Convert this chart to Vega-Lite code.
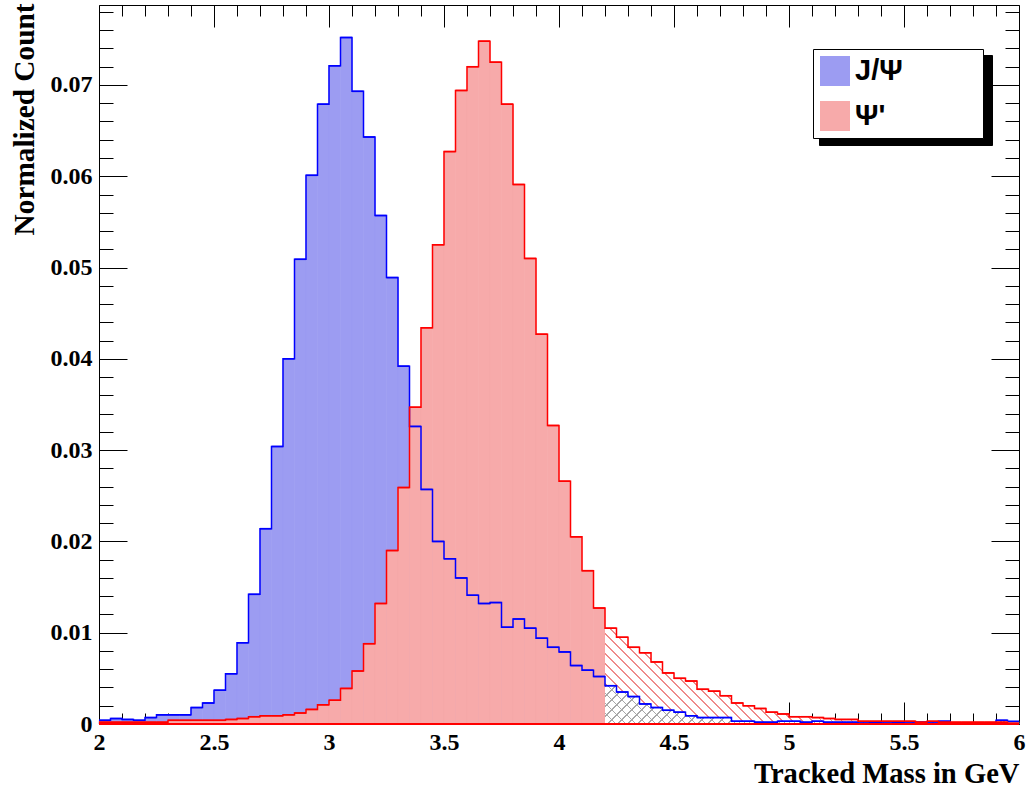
{
  "$schema": "https://vega.github.io/schema/vega-lite/v6.json",
  "width": 920,
  "height": 719,
  "autosize": {"type": "none"},
  "padding": {"left": 99, "top": 5, "right": 10, "bottom": 69},
  "background": "white",
  "data": {"values": [
    {"lo": 2.00, "hi": 2.05, "jpsi": 0.0004, "psi2": 0.0002},
    {"lo": 2.05, "hi": 2.10, "jpsi": 0.0006, "psi2": 0.0002},
    {"lo": 2.10, "hi": 2.15, "jpsi": 0.0005, "psi2": 0.0002},
    {"lo": 2.15, "hi": 2.20, "jpsi": 0.0004, "psi2": 0.0002},
    {"lo": 2.20, "hi": 2.25, "jpsi": 0.0007, "psi2": 0.0002},
    {"lo": 2.25, "hi": 2.30, "jpsi": 0.0010, "psi2": 0.0002},
    {"lo": 2.30, "hi": 2.35, "jpsi": 0.0010, "psi2": 0.0004},
    {"lo": 2.35, "hi": 2.40, "jpsi": 0.0010, "psi2": 0.0004},
    {"lo": 2.40, "hi": 2.45, "jpsi": 0.0018, "psi2": 0.0004},
    {"lo": 2.45, "hi": 2.50, "jpsi": 0.0023, "psi2": 0.0004},
    {"lo": 2.50, "hi": 2.55, "jpsi": 0.0037, "psi2": 0.0004},
    {"lo": 2.55, "hi": 2.60, "jpsi": 0.0055, "psi2": 0.0005},
    {"lo": 2.60, "hi": 2.65, "jpsi": 0.0089, "psi2": 0.0006},
    {"lo": 2.65, "hi": 2.70, "jpsi": 0.0142, "psi2": 0.0008},
    {"lo": 2.70, "hi": 2.75, "jpsi": 0.0214, "psi2": 0.0009},
    {"lo": 2.75, "hi": 2.80, "jpsi": 0.0304, "psi2": 0.0009},
    {"lo": 2.80, "hi": 2.85, "jpsi": 0.0400, "psi2": 0.0010},
    {"lo": 2.85, "hi": 2.90, "jpsi": 0.0509, "psi2": 0.0012},
    {"lo": 2.90, "hi": 2.95, "jpsi": 0.0601, "psi2": 0.0016},
    {"lo": 2.95, "hi": 3.00, "jpsi": 0.0679, "psi2": 0.0021},
    {"lo": 3.00, "hi": 3.05, "jpsi": 0.0721, "psi2": 0.0026},
    {"lo": 3.05, "hi": 3.10, "jpsi": 0.0752, "psi2": 0.0039},
    {"lo": 3.10, "hi": 3.15, "jpsi": 0.0693, "psi2": 0.0058},
    {"lo": 3.15, "hi": 3.20, "jpsi": 0.0643, "psi2": 0.0088},
    {"lo": 3.20, "hi": 3.25, "jpsi": 0.0557, "psi2": 0.0132},
    {"lo": 3.25, "hi": 3.30, "jpsi": 0.0489, "psi2": 0.0190},
    {"lo": 3.30, "hi": 3.35, "jpsi": 0.0392, "psi2": 0.0259},
    {"lo": 3.35, "hi": 3.40, "jpsi": 0.0326, "psi2": 0.0347},
    {"lo": 3.40, "hi": 3.45, "jpsi": 0.0257, "psi2": 0.0434},
    {"lo": 3.45, "hi": 3.50, "jpsi": 0.0200, "psi2": 0.0525},
    {"lo": 3.50, "hi": 3.55, "jpsi": 0.0181, "psi2": 0.0627},
    {"lo": 3.55, "hi": 3.60, "jpsi": 0.0160, "psi2": 0.0694},
    {"lo": 3.60, "hi": 3.65, "jpsi": 0.0141, "psi2": 0.0720},
    {"lo": 3.65, "hi": 3.70, "jpsi": 0.0132, "psi2": 0.0748},
    {"lo": 3.70, "hi": 3.75, "jpsi": 0.0133, "psi2": 0.0725},
    {"lo": 3.75, "hi": 3.80, "jpsi": 0.0106, "psi2": 0.0679},
    {"lo": 3.80, "hi": 3.85, "jpsi": 0.0115, "psi2": 0.0591},
    {"lo": 3.85, "hi": 3.90, "jpsi": 0.0105, "psi2": 0.0510},
    {"lo": 3.90, "hi": 3.95, "jpsi": 0.0094, "psi2": 0.0427},
    {"lo": 3.95, "hi": 4.00, "jpsi": 0.0084, "psi2": 0.0327},
    {"lo": 4.00, "hi": 4.05, "jpsi": 0.0079, "psi2": 0.0266},
    {"lo": 4.05, "hi": 4.10, "jpsi": 0.0064, "psi2": 0.0205},
    {"lo": 4.10, "hi": 4.15, "jpsi": 0.0059, "psi2": 0.0168},
    {"lo": 4.15, "hi": 4.20, "jpsi": 0.0052, "psi2": 0.0127},
    {"lo": 4.20, "hi": 4.25, "jpsi": 0.0042, "psi2": 0.0105},
    {"lo": 4.25, "hi": 4.30, "jpsi": 0.0035, "psi2": 0.0095},
    {"lo": 4.30, "hi": 4.35, "jpsi": 0.0030, "psi2": 0.0084},
    {"lo": 4.35, "hi": 4.40, "jpsi": 0.0022, "psi2": 0.0078},
    {"lo": 4.40, "hi": 4.45, "jpsi": 0.0018, "psi2": 0.0068},
    {"lo": 4.45, "hi": 4.50, "jpsi": 0.0015, "psi2": 0.0056},
    {"lo": 4.50, "hi": 4.55, "jpsi": 0.0013, "psi2": 0.0050},
    {"lo": 4.55, "hi": 4.60, "jpsi": 0.0009, "psi2": 0.0047},
    {"lo": 4.60, "hi": 4.65, "jpsi": 0.0007, "psi2": 0.0038},
    {"lo": 4.65, "hi": 4.70, "jpsi": 0.0007, "psi2": 0.0036},
    {"lo": 4.70, "hi": 4.75, "jpsi": 0.0007, "psi2": 0.0031},
    {"lo": 4.75, "hi": 4.80, "jpsi": 0.0003, "psi2": 0.0023},
    {"lo": 4.80, "hi": 4.85, "jpsi": 0.0003, "psi2": 0.0020},
    {"lo": 4.85, "hi": 4.90, "jpsi": 0.0002, "psi2": 0.0017},
    {"lo": 4.90, "hi": 4.95, "jpsi": 0.0002, "psi2": 0.0013},
    {"lo": 4.95, "hi": 5.00, "jpsi": 0.0003, "psi2": 0.0011},
    {"lo": 5.00, "hi": 5.05, "jpsi": 0.0003, "psi2": 0.0008},
    {"lo": 5.05, "hi": 5.10, "jpsi": 0.0002, "psi2": 0.0008},
    {"lo": 5.10, "hi": 5.15, "jpsi": 0.0003, "psi2": 0.0007},
    {"lo": 5.15, "hi": 5.20, "jpsi": 0.0002, "psi2": 0.0006},
    {"lo": 5.20, "hi": 5.25, "jpsi": 0.0002, "psi2": 0.0005},
    {"lo": 5.25, "hi": 5.30, "jpsi": 0.0002, "psi2": 0.0005},
    {"lo": 5.30, "hi": 5.35, "jpsi": 0.0001, "psi2": 0.0003},
    {"lo": 5.35, "hi": 5.40, "jpsi": 0.0002, "psi2": 0.0003},
    {"lo": 5.40, "hi": 5.45, "jpsi": 0.0001, "psi2": 0.0003},
    {"lo": 5.45, "hi": 5.50, "jpsi": 0.0002, "psi2": 0.0003},
    {"lo": 5.50, "hi": 5.55, "jpsi": 0.0001, "psi2": 0.0003},
    {"lo": 5.55, "hi": 5.60, "jpsi": 0.0002, "psi2": 0.0002},
    {"lo": 5.60, "hi": 5.65, "jpsi": 0.0001, "psi2": 0.0003},
    {"lo": 5.65, "hi": 5.70, "jpsi": 0.0003, "psi2": 0.0002},
    {"lo": 5.70, "hi": 5.75, "jpsi": 0.0001, "psi2": 0.0002},
    {"lo": 5.75, "hi": 5.80, "jpsi": 0.0001, "psi2": 0.0002},
    {"lo": 5.80, "hi": 5.85, "jpsi": 0.0001, "psi2": 0.0002},
    {"lo": 5.85, "hi": 5.90, "jpsi": 0.0001, "psi2": 0.0002},
    {"lo": 5.90, "hi": 5.95, "jpsi": 0.0004, "psi2": 0.0002},
    {"lo": 5.95, "hi": 6.00, "jpsi": 0.0003, "psi2": 0.0001}
  ]},
  "config": {
    "view": {"stroke": "black", "strokeWidth": 1},
    "axis": {
      "grid": false, "zindex": 1, "domain": false,
      "tickColor": "black", "tickWidth": 1,
      "labelFont": "Liberation Serif", "labelFontWeight": "bold", "labelFontSize": 24, "labelColor": "black",
      "titleFont": "Liberation Serif", "titleFontWeight": "bold", "titleFontSize": 28, "titleColor": "black"
    }
  },
  "resolve": {"axis": {"x": "independent", "y": "independent"}},
  "layer": [
    {
      "transform": [{"fold": ["jpsi", "psi2"], "as": ["series", "value"]}],
      "mark": {"type": "bar", "strokeWidth": 0.6},
      "encoding": {
        "x": {"field": "lo", "type": "quantitative", "scale": {"domain": [2, 6], "nice": false, "zero": false},
          "axis": {"orient": "bottom", "values": [2, 2.5, 3, 3.5, 4, 4.5, 5, 5.5, 6], "format": "~g", "tickSize": -22, "labelPadding": 28, "labelFlush": false, "labelOverlap": false,
            "title": "Tracked Mass in GeV", "titleFontSize": 28.6, "titleX": 920, "titleY": 58, "titleAlign": "right", "titleBaseline": "alphabetic", "titleAnchor": "end"}},
        "x2": {"field": "hi"},
        "y": {"field": "value", "type": "quantitative", "scale": {"domain": [0, 0.07876], "nice": false},
          "axis": {"orient": "left", "values": [0, 0.01, 0.02, 0.03, 0.04, 0.05, 0.06, 0.07], "format": "~g", "tickSize": -28, "labelPadding": 35, "labelFlush": false, "labelOverlap": false,
            "title": "Normalized Count", "titleFontSize": 29.3, "titleX": -66, "titleY": -2, "titleAngle": -90, "titleAlign": "right", "titleBaseline": "alphabetic", "titleAnchor": "end"}},
        "y2": {"datum": 0},
        "order": {"field": "series"},
        "color": {"field": "series", "type": "nominal",
          "scale": {"domain": ["jpsi", "psi2"], "range": ["#9c9cf2", "#f7aaaa"]},
          "legend": {"orient": "none", "legendX": 714, "legendY": 44, "title": null, "zindex": 2,
            "symbolType": "square", "symbolSize": 900, "symbolStrokeWidth": 0, "symbolOpacity": 1,
            "labelFont": "Liberation Sans", "labelFontWeight": "bold", "labelFontSize": 29, "labelColor": "black",
            "labelOffset": 5, "rowPadding": 15, "padding": 7, "fillColor": "white", "strokeColor": "black",
            "labelExpr": "datum.label == 'jpsi' ? 'J/Ψ\u00a0\u00a0\u00a0\u00a0\u00a0\u00a0\u00a0\u00a0\u00a0\u200b' : \"Ψ'\""}},
        "stroke": {"field": "series", "type": "nominal", "scale": {"domain": ["jpsi", "psi2"], "range": ["#9c9cf2", "#f7aaaa"]}, "legend": null}
      }
    },
    {
      "transform": [{"filter": {"field": "lo", "gte": 4.2}}],
      "mark": {"type": "area", "interpolate": "step-after",
        "fill": {"gradient": "linear", "x1": 0, "y1": 1, "x2": 1.1717, "y2": 0.7208, "stops": [
          {"offset": 0, "color": "#ef8a8a"}, {"offset": 0.0034, "color": "#ef8a8a"}, {"offset": 0.0034, "color": "#ffffff"}, {"offset": 0.02, "color": "#ffffff"},
          {"offset": 0.02, "color": "#ef8a8a"}, {"offset": 0.0234, "color": "#ef8a8a"}, {"offset": 0.0234, "color": "#ffffff"}, {"offset": 0.04, "color": "#ffffff"},
          {"offset": 0.04, "color": "#ef8a8a"}, {"offset": 0.0434, "color": "#ef8a8a"}, {"offset": 0.0434, "color": "#ffffff"}, {"offset": 0.06, "color": "#ffffff"},
          {"offset": 0.06, "color": "#ef8a8a"}, {"offset": 0.0634, "color": "#ef8a8a"}, {"offset": 0.0634, "color": "#ffffff"}, {"offset": 0.08, "color": "#ffffff"},
          {"offset": 0.08, "color": "#ef8a8a"}, {"offset": 0.0834, "color": "#ef8a8a"}, {"offset": 0.0834, "color": "#ffffff"}, {"offset": 0.10, "color": "#ffffff"},
          {"offset": 0.10, "color": "#ef8a8a"}, {"offset": 0.1034, "color": "#ef8a8a"}, {"offset": 0.1034, "color": "#ffffff"}, {"offset": 0.12, "color": "#ffffff"},
          {"offset": 0.12, "color": "#ef8a8a"}, {"offset": 0.1234, "color": "#ef8a8a"}, {"offset": 0.1234, "color": "#ffffff"}, {"offset": 0.14, "color": "#ffffff"},
          {"offset": 0.14, "color": "#ef8a8a"}, {"offset": 0.1434, "color": "#ef8a8a"}, {"offset": 0.1434, "color": "#ffffff"}, {"offset": 0.16, "color": "#ffffff"},
          {"offset": 0.16, "color": "#ef8a8a"}, {"offset": 0.1634, "color": "#ef8a8a"}, {"offset": 0.1634, "color": "#ffffff"}, {"offset": 0.18, "color": "#ffffff"},
          {"offset": 0.18, "color": "#ef8a8a"}, {"offset": 0.1834, "color": "#ef8a8a"}, {"offset": 0.1834, "color": "#ffffff"}, {"offset": 0.20, "color": "#ffffff"},
          {"offset": 0.20, "color": "#ef8a8a"}, {"offset": 0.2034, "color": "#ef8a8a"}, {"offset": 0.2034, "color": "#ffffff"}, {"offset": 0.22, "color": "#ffffff"},
          {"offset": 0.22, "color": "#ef8a8a"}, {"offset": 0.2234, "color": "#ef8a8a"}, {"offset": 0.2234, "color": "#ffffff"}, {"offset": 0.24, "color": "#ffffff"},
          {"offset": 0.24, "color": "#ef8a8a"}, {"offset": 0.2434, "color": "#ef8a8a"}, {"offset": 0.2434, "color": "#ffffff"}, {"offset": 0.26, "color": "#ffffff"},
          {"offset": 0.26, "color": "#ef8a8a"}, {"offset": 0.2634, "color": "#ef8a8a"}, {"offset": 0.2634, "color": "#ffffff"}, {"offset": 0.28, "color": "#ffffff"},
          {"offset": 0.28, "color": "#ef8a8a"}, {"offset": 0.2834, "color": "#ef8a8a"}, {"offset": 0.2834, "color": "#ffffff"}, {"offset": 0.30, "color": "#ffffff"},
          {"offset": 0.30, "color": "#ef8a8a"}, {"offset": 0.3034, "color": "#ef8a8a"}, {"offset": 0.3034, "color": "#ffffff"}, {"offset": 0.32, "color": "#ffffff"},
          {"offset": 0.32, "color": "#ef8a8a"}, {"offset": 0.3234, "color": "#ef8a8a"}, {"offset": 0.3234, "color": "#ffffff"}, {"offset": 0.34, "color": "#ffffff"},
          {"offset": 0.34, "color": "#ef8a8a"}, {"offset": 0.3434, "color": "#ef8a8a"}, {"offset": 0.3434, "color": "#ffffff"}, {"offset": 0.36, "color": "#ffffff"},
          {"offset": 0.36, "color": "#ef8a8a"}, {"offset": 0.3634, "color": "#ef8a8a"}, {"offset": 0.3634, "color": "#ffffff"}, {"offset": 0.38, "color": "#ffffff"},
          {"offset": 0.38, "color": "#ef8a8a"}, {"offset": 0.3834, "color": "#ef8a8a"}, {"offset": 0.3834, "color": "#ffffff"}, {"offset": 0.40, "color": "#ffffff"},
          {"offset": 0.40, "color": "#ef8a8a"}, {"offset": 0.4034, "color": "#ef8a8a"}, {"offset": 0.4034, "color": "#ffffff"}, {"offset": 0.42, "color": "#ffffff"},
          {"offset": 0.42, "color": "#ef8a8a"}, {"offset": 0.4234, "color": "#ef8a8a"}, {"offset": 0.4234, "color": "#ffffff"}, {"offset": 0.44, "color": "#ffffff"},
          {"offset": 0.44, "color": "#ef8a8a"}, {"offset": 0.4434, "color": "#ef8a8a"}, {"offset": 0.4434, "color": "#ffffff"}, {"offset": 0.46, "color": "#ffffff"},
          {"offset": 0.46, "color": "#ef8a8a"}, {"offset": 0.4634, "color": "#ef8a8a"}, {"offset": 0.4634, "color": "#ffffff"}, {"offset": 0.48, "color": "#ffffff"},
          {"offset": 0.48, "color": "#ef8a8a"}, {"offset": 0.4834, "color": "#ef8a8a"}, {"offset": 0.4834, "color": "#ffffff"}, {"offset": 0.50, "color": "#ffffff"},
          {"offset": 0.50, "color": "#ef8a8a"}, {"offset": 0.5034, "color": "#ef8a8a"}, {"offset": 0.5034, "color": "#ffffff"}, {"offset": 0.52, "color": "#ffffff"},
          {"offset": 0.52, "color": "#ef8a8a"}, {"offset": 0.5234, "color": "#ef8a8a"}, {"offset": 0.5234, "color": "#ffffff"}, {"offset": 0.54, "color": "#ffffff"},
          {"offset": 0.54, "color": "#ef8a8a"}, {"offset": 0.5434, "color": "#ef8a8a"}, {"offset": 0.5434, "color": "#ffffff"}, {"offset": 0.56, "color": "#ffffff"},
          {"offset": 0.56, "color": "#ef8a8a"}, {"offset": 0.5634, "color": "#ef8a8a"}, {"offset": 0.5634, "color": "#ffffff"}, {"offset": 0.58, "color": "#ffffff"},
          {"offset": 0.58, "color": "#ef8a8a"}, {"offset": 0.5834, "color": "#ef8a8a"}, {"offset": 0.5834, "color": "#ffffff"}, {"offset": 0.60, "color": "#ffffff"},
          {"offset": 0.60, "color": "#ef8a8a"}, {"offset": 0.6034, "color": "#ef8a8a"}, {"offset": 0.6034, "color": "#ffffff"}, {"offset": 0.62, "color": "#ffffff"},
          {"offset": 0.62, "color": "#ef8a8a"}, {"offset": 0.6234, "color": "#ef8a8a"}, {"offset": 0.6234, "color": "#ffffff"}, {"offset": 0.64, "color": "#ffffff"},
          {"offset": 0.64, "color": "#ef8a8a"}, {"offset": 0.6434, "color": "#ef8a8a"}, {"offset": 0.6434, "color": "#ffffff"}, {"offset": 0.66, "color": "#ffffff"},
          {"offset": 0.66, "color": "#ef8a8a"}, {"offset": 0.6634, "color": "#ef8a8a"}, {"offset": 0.6634, "color": "#ffffff"}, {"offset": 0.68, "color": "#ffffff"},
          {"offset": 0.68, "color": "#ef8a8a"}, {"offset": 0.6834, "color": "#ef8a8a"}, {"offset": 0.6834, "color": "#ffffff"}, {"offset": 0.70, "color": "#ffffff"},
          {"offset": 0.70, "color": "#ef8a8a"}, {"offset": 0.7034, "color": "#ef8a8a"}, {"offset": 0.7034, "color": "#ffffff"}, {"offset": 0.72, "color": "#ffffff"},
          {"offset": 0.72, "color": "#ef8a8a"}, {"offset": 0.7234, "color": "#ef8a8a"}, {"offset": 0.7234, "color": "#ffffff"}, {"offset": 0.74, "color": "#ffffff"},
          {"offset": 0.74, "color": "#ef8a8a"}, {"offset": 0.7434, "color": "#ef8a8a"}, {"offset": 0.7434, "color": "#ffffff"}, {"offset": 0.76, "color": "#ffffff"},
          {"offset": 0.76, "color": "#ef8a8a"}, {"offset": 0.7634, "color": "#ef8a8a"}, {"offset": 0.7634, "color": "#ffffff"}, {"offset": 0.78, "color": "#ffffff"},
          {"offset": 0.78, "color": "#ef8a8a"}, {"offset": 0.7834, "color": "#ef8a8a"}, {"offset": 0.7834, "color": "#ffffff"}, {"offset": 0.80, "color": "#ffffff"},
          {"offset": 0.80, "color": "#ef8a8a"}, {"offset": 0.8034, "color": "#ef8a8a"}, {"offset": 0.8034, "color": "#ffffff"}, {"offset": 0.82, "color": "#ffffff"},
          {"offset": 0.82, "color": "#ef8a8a"}, {"offset": 0.8234, "color": "#ef8a8a"}, {"offset": 0.8234, "color": "#ffffff"}, {"offset": 0.84, "color": "#ffffff"},
          {"offset": 0.84, "color": "#ef8a8a"}, {"offset": 0.8434, "color": "#ef8a8a"}, {"offset": 0.8434, "color": "#ffffff"}, {"offset": 0.86, "color": "#ffffff"},
          {"offset": 0.86, "color": "#ef8a8a"}, {"offset": 0.8634, "color": "#ef8a8a"}, {"offset": 0.8634, "color": "#ffffff"}, {"offset": 0.88, "color": "#ffffff"},
          {"offset": 0.88, "color": "#ef8a8a"}, {"offset": 0.8834, "color": "#ef8a8a"}, {"offset": 0.8834, "color": "#ffffff"}, {"offset": 0.90, "color": "#ffffff"},
          {"offset": 0.90, "color": "#ef8a8a"}, {"offset": 0.9034, "color": "#ef8a8a"}, {"offset": 0.9034, "color": "#ffffff"}, {"offset": 0.92, "color": "#ffffff"},
          {"offset": 0.92, "color": "#ef8a8a"}, {"offset": 0.9234, "color": "#ef8a8a"}, {"offset": 0.9234, "color": "#ffffff"}, {"offset": 0.94, "color": "#ffffff"},
          {"offset": 0.94, "color": "#ef8a8a"}, {"offset": 0.9434, "color": "#ef8a8a"}, {"offset": 0.9434, "color": "#ffffff"}, {"offset": 0.96, "color": "#ffffff"},
          {"offset": 0.96, "color": "#ef8a8a"}, {"offset": 0.9634, "color": "#ef8a8a"}, {"offset": 0.9634, "color": "#ffffff"}, {"offset": 0.98, "color": "#ffffff"},
          {"offset": 0.98, "color": "#ef8a8a"}, {"offset": 0.9834, "color": "#ef8a8a"}, {"offset": 0.9834, "color": "#ffffff"}, {"offset": 1, "color": "#ffffff"}
        ]}},
      "encoding": {
        "x": {"field": "lo", "type": "quantitative", "scale": {"domain": [2, 6], "nice": false, "zero": false},
          "axis": {"orient": "bottom", "values": [2.1, 2.2, 2.3, 2.4, 2.6, 2.7, 2.8, 2.9, 3.1, 3.2, 3.3, 3.4, 3.6, 3.7, 3.8, 3.9, 4.1, 4.2, 4.3, 4.4, 4.6, 4.7, 4.8, 4.9, 5.1, 5.2, 5.3, 5.4, 5.6, 5.7, 5.8, 5.9], "tickSize": -11, "labels": false, "title": null}},
        "y": {"field": "psi2", "type": "quantitative", "scale": {"domain": [0, 0.07876], "nice": false},
          "axis": {"orient": "left", "values": [0.002, 0.004, 0.006, 0.008, 0.012, 0.014, 0.016, 0.018, 0.022, 0.024, 0.026, 0.028, 0.032, 0.034, 0.036, 0.038, 0.042, 0.044, 0.046, 0.048, 0.052, 0.054, 0.056, 0.058, 0.062, 0.064, 0.066, 0.068, 0.072, 0.074, 0.076, 0.078], "tickSize": -14, "labels": false, "title": null}}
      }
    },
    {
      "transform": [{"filter": {"field": "lo", "gte": 4.2}}],
      "mark": {"type": "area", "interpolate": "step-after",
        "fill": {"gradient": "linear", "x1": 0, "y1": 1, "x2": 1.0854, "y2": 0.8967, "stops": [
          {"offset": 0, "color": "#a8a8a8"}, {"offset": 0.0035, "color": "#a8a8a8"}, {"offset": 0.0035, "color": "#ffffff"}, {"offset": 0.0227, "color": "#ffffff"},
          {"offset": 0.0227, "color": "#a8a8a8"}, {"offset": 0.0262, "color": "#a8a8a8"}, {"offset": 0.0262, "color": "#ffffff"}, {"offset": 0.0455, "color": "#ffffff"},
          {"offset": 0.0455, "color": "#a8a8a8"}, {"offset": 0.0490, "color": "#a8a8a8"}, {"offset": 0.0490, "color": "#ffffff"}, {"offset": 0.0682, "color": "#ffffff"},
          {"offset": 0.0682, "color": "#a8a8a8"}, {"offset": 0.0717, "color": "#a8a8a8"}, {"offset": 0.0717, "color": "#ffffff"}, {"offset": 0.0909, "color": "#ffffff"},
          {"offset": 0.0909, "color": "#a8a8a8"}, {"offset": 0.0944, "color": "#a8a8a8"}, {"offset": 0.0944, "color": "#ffffff"}, {"offset": 0.1136, "color": "#ffffff"},
          {"offset": 0.1136, "color": "#a8a8a8"}, {"offset": 0.1171, "color": "#a8a8a8"}, {"offset": 0.1171, "color": "#ffffff"}, {"offset": 0.1364, "color": "#ffffff"},
          {"offset": 0.1364, "color": "#a8a8a8"}, {"offset": 0.1399, "color": "#a8a8a8"}, {"offset": 0.1399, "color": "#ffffff"}, {"offset": 0.1591, "color": "#ffffff"},
          {"offset": 0.1591, "color": "#a8a8a8"}, {"offset": 0.1626, "color": "#a8a8a8"}, {"offset": 0.1626, "color": "#ffffff"}, {"offset": 0.1818, "color": "#ffffff"},
          {"offset": 0.1818, "color": "#a8a8a8"}, {"offset": 0.1853, "color": "#a8a8a8"}, {"offset": 0.1853, "color": "#ffffff"}, {"offset": 0.2045, "color": "#ffffff"},
          {"offset": 0.2045, "color": "#a8a8a8"}, {"offset": 0.2080, "color": "#a8a8a8"}, {"offset": 0.2080, "color": "#ffffff"}, {"offset": 0.2273, "color": "#ffffff"},
          {"offset": 0.2273, "color": "#a8a8a8"}, {"offset": 0.2308, "color": "#a8a8a8"}, {"offset": 0.2308, "color": "#ffffff"}, {"offset": 0.2500, "color": "#ffffff"},
          {"offset": 0.2500, "color": "#a8a8a8"}, {"offset": 0.2535, "color": "#a8a8a8"}, {"offset": 0.2535, "color": "#ffffff"}, {"offset": 0.2727, "color": "#ffffff"},
          {"offset": 0.2727, "color": "#a8a8a8"}, {"offset": 0.2762, "color": "#a8a8a8"}, {"offset": 0.2762, "color": "#ffffff"}, {"offset": 0.2955, "color": "#ffffff"},
          {"offset": 0.2955, "color": "#a8a8a8"}, {"offset": 0.2990, "color": "#a8a8a8"}, {"offset": 0.2990, "color": "#ffffff"}, {"offset": 0.3182, "color": "#ffffff"},
          {"offset": 0.3182, "color": "#a8a8a8"}, {"offset": 0.3217, "color": "#a8a8a8"}, {"offset": 0.3217, "color": "#ffffff"}, {"offset": 0.3409, "color": "#ffffff"},
          {"offset": 0.3409, "color": "#a8a8a8"}, {"offset": 0.3444, "color": "#a8a8a8"}, {"offset": 0.3444, "color": "#ffffff"}, {"offset": 0.3636, "color": "#ffffff"},
          {"offset": 0.3636, "color": "#a8a8a8"}, {"offset": 0.3671, "color": "#a8a8a8"}, {"offset": 0.3671, "color": "#ffffff"}, {"offset": 0.3864, "color": "#ffffff"},
          {"offset": 0.3864, "color": "#a8a8a8"}, {"offset": 0.3899, "color": "#a8a8a8"}, {"offset": 0.3899, "color": "#ffffff"}, {"offset": 0.4091, "color": "#ffffff"},
          {"offset": 0.4091, "color": "#a8a8a8"}, {"offset": 0.4126, "color": "#a8a8a8"}, {"offset": 0.4126, "color": "#ffffff"}, {"offset": 0.4318, "color": "#ffffff"},
          {"offset": 0.4318, "color": "#a8a8a8"}, {"offset": 0.4353, "color": "#a8a8a8"}, {"offset": 0.4353, "color": "#ffffff"}, {"offset": 0.4545, "color": "#ffffff"},
          {"offset": 0.4545, "color": "#a8a8a8"}, {"offset": 0.4580, "color": "#a8a8a8"}, {"offset": 0.4580, "color": "#ffffff"}, {"offset": 0.4773, "color": "#ffffff"},
          {"offset": 0.4773, "color": "#a8a8a8"}, {"offset": 0.4808, "color": "#a8a8a8"}, {"offset": 0.4808, "color": "#ffffff"}, {"offset": 0.5000, "color": "#ffffff"},
          {"offset": 0.5000, "color": "#a8a8a8"}, {"offset": 0.5035, "color": "#a8a8a8"}, {"offset": 0.5035, "color": "#ffffff"}, {"offset": 0.5227, "color": "#ffffff"},
          {"offset": 0.5227, "color": "#a8a8a8"}, {"offset": 0.5262, "color": "#a8a8a8"}, {"offset": 0.5262, "color": "#ffffff"}, {"offset": 0.5455, "color": "#ffffff"},
          {"offset": 0.5455, "color": "#a8a8a8"}, {"offset": 0.5490, "color": "#a8a8a8"}, {"offset": 0.5490, "color": "#ffffff"}, {"offset": 0.5682, "color": "#ffffff"},
          {"offset": 0.5682, "color": "#a8a8a8"}, {"offset": 0.5717, "color": "#a8a8a8"}, {"offset": 0.5717, "color": "#ffffff"}, {"offset": 0.5909, "color": "#ffffff"},
          {"offset": 0.5909, "color": "#a8a8a8"}, {"offset": 0.5944, "color": "#a8a8a8"}, {"offset": 0.5944, "color": "#ffffff"}, {"offset": 0.6136, "color": "#ffffff"},
          {"offset": 0.6136, "color": "#a8a8a8"}, {"offset": 0.6171, "color": "#a8a8a8"}, {"offset": 0.6171, "color": "#ffffff"}, {"offset": 0.6364, "color": "#ffffff"},
          {"offset": 0.6364, "color": "#a8a8a8"}, {"offset": 0.6399, "color": "#a8a8a8"}, {"offset": 0.6399, "color": "#ffffff"}, {"offset": 0.6591, "color": "#ffffff"},
          {"offset": 0.6591, "color": "#a8a8a8"}, {"offset": 0.6626, "color": "#a8a8a8"}, {"offset": 0.6626, "color": "#ffffff"}, {"offset": 0.6818, "color": "#ffffff"},
          {"offset": 0.6818, "color": "#a8a8a8"}, {"offset": 0.6853, "color": "#a8a8a8"}, {"offset": 0.6853, "color": "#ffffff"}, {"offset": 0.7045, "color": "#ffffff"},
          {"offset": 0.7045, "color": "#a8a8a8"}, {"offset": 0.7080, "color": "#a8a8a8"}, {"offset": 0.7080, "color": "#ffffff"}, {"offset": 0.7273, "color": "#ffffff"},
          {"offset": 0.7273, "color": "#a8a8a8"}, {"offset": 0.7308, "color": "#a8a8a8"}, {"offset": 0.7308, "color": "#ffffff"}, {"offset": 0.7500, "color": "#ffffff"},
          {"offset": 0.7500, "color": "#a8a8a8"}, {"offset": 0.7535, "color": "#a8a8a8"}, {"offset": 0.7535, "color": "#ffffff"}, {"offset": 0.7727, "color": "#ffffff"},
          {"offset": 0.7727, "color": "#a8a8a8"}, {"offset": 0.7762, "color": "#a8a8a8"}, {"offset": 0.7762, "color": "#ffffff"}, {"offset": 0.7955, "color": "#ffffff"},
          {"offset": 0.7955, "color": "#a8a8a8"}, {"offset": 0.7990, "color": "#a8a8a8"}, {"offset": 0.7990, "color": "#ffffff"}, {"offset": 0.8182, "color": "#ffffff"},
          {"offset": 0.8182, "color": "#a8a8a8"}, {"offset": 0.8217, "color": "#a8a8a8"}, {"offset": 0.8217, "color": "#ffffff"}, {"offset": 0.8409, "color": "#ffffff"},
          {"offset": 0.8409, "color": "#a8a8a8"}, {"offset": 0.8444, "color": "#a8a8a8"}, {"offset": 0.8444, "color": "#ffffff"}, {"offset": 0.8636, "color": "#ffffff"},
          {"offset": 0.8636, "color": "#a8a8a8"}, {"offset": 0.8671, "color": "#a8a8a8"}, {"offset": 0.8671, "color": "#ffffff"}, {"offset": 0.8864, "color": "#ffffff"},
          {"offset": 0.8864, "color": "#a8a8a8"}, {"offset": 0.8899, "color": "#a8a8a8"}, {"offset": 0.8899, "color": "#ffffff"}, {"offset": 0.9091, "color": "#ffffff"},
          {"offset": 0.9091, "color": "#a8a8a8"}, {"offset": 0.9126, "color": "#a8a8a8"}, {"offset": 0.9126, "color": "#ffffff"}, {"offset": 0.9318, "color": "#ffffff"},
          {"offset": 0.9318, "color": "#a8a8a8"}, {"offset": 0.9353, "color": "#a8a8a8"}, {"offset": 0.9353, "color": "#ffffff"}, {"offset": 0.9545, "color": "#ffffff"},
          {"offset": 0.9545, "color": "#a8a8a8"}, {"offset": 0.9580, "color": "#a8a8a8"}, {"offset": 0.9580, "color": "#ffffff"}, {"offset": 0.9773, "color": "#ffffff"},
          {"offset": 0.9773, "color": "#a8a8a8"}, {"offset": 0.9808, "color": "#a8a8a8"}, {"offset": 0.9808, "color": "#ffffff"}, {"offset": 1, "color": "#ffffff"}
        ]}},
      "encoding": {
        "x": {"field": "lo", "type": "quantitative", "scale": {"domain": [2, 6], "nice": false, "zero": false},
          "axis": {"orient": "top", "values": [2, 2.5, 3, 3.5, 4, 4.5, 5, 5.5, 6], "tickSize": -22, "labels": false, "title": null}},
        "y": {"field": "jpsi", "type": "quantitative", "scale": {"domain": [0, 0.07876], "nice": false},
          "axis": {"orient": "right", "values": [0, 0.01, 0.02, 0.03, 0.04, 0.05, 0.06, 0.07], "tickSize": -28, "labels": false, "title": null}}
      }
    },
    {
      "transform": [{"filter": {"field": "lo", "gte": 4.2}}],
      "mark": {"type": "area", "interpolate": "step-after",
        "fill": {"gradient": "linear", "x1": 0, "y1": 0, "x2": 1.0854, "y2": 0.1033, "stops": [
          {"offset": 0, "color": "#a8a8a8"}, {"offset": 0.0035, "color": "#a8a8a8"}, {"offset": 0.0035, "color": "rgba(255,255,255,0)"}, {"offset": 0.0227, "color": "rgba(255,255,255,0)"},
          {"offset": 0.0227, "color": "#a8a8a8"}, {"offset": 0.0262, "color": "#a8a8a8"}, {"offset": 0.0262, "color": "rgba(255,255,255,0)"}, {"offset": 0.0455, "color": "rgba(255,255,255,0)"},
          {"offset": 0.0455, "color": "#a8a8a8"}, {"offset": 0.0490, "color": "#a8a8a8"}, {"offset": 0.0490, "color": "rgba(255,255,255,0)"}, {"offset": 0.0682, "color": "rgba(255,255,255,0)"},
          {"offset": 0.0682, "color": "#a8a8a8"}, {"offset": 0.0717, "color": "#a8a8a8"}, {"offset": 0.0717, "color": "rgba(255,255,255,0)"}, {"offset": 0.0909, "color": "rgba(255,255,255,0)"},
          {"offset": 0.0909, "color": "#a8a8a8"}, {"offset": 0.0944, "color": "#a8a8a8"}, {"offset": 0.0944, "color": "rgba(255,255,255,0)"}, {"offset": 0.1136, "color": "rgba(255,255,255,0)"},
          {"offset": 0.1136, "color": "#a8a8a8"}, {"offset": 0.1171, "color": "#a8a8a8"}, {"offset": 0.1171, "color": "rgba(255,255,255,0)"}, {"offset": 0.1364, "color": "rgba(255,255,255,0)"},
          {"offset": 0.1364, "color": "#a8a8a8"}, {"offset": 0.1399, "color": "#a8a8a8"}, {"offset": 0.1399, "color": "rgba(255,255,255,0)"}, {"offset": 0.1591, "color": "rgba(255,255,255,0)"},
          {"offset": 0.1591, "color": "#a8a8a8"}, {"offset": 0.1626, "color": "#a8a8a8"}, {"offset": 0.1626, "color": "rgba(255,255,255,0)"}, {"offset": 0.1818, "color": "rgba(255,255,255,0)"},
          {"offset": 0.1818, "color": "#a8a8a8"}, {"offset": 0.1853, "color": "#a8a8a8"}, {"offset": 0.1853, "color": "rgba(255,255,255,0)"}, {"offset": 0.2045, "color": "rgba(255,255,255,0)"},
          {"offset": 0.2045, "color": "#a8a8a8"}, {"offset": 0.2080, "color": "#a8a8a8"}, {"offset": 0.2080, "color": "rgba(255,255,255,0)"}, {"offset": 0.2273, "color": "rgba(255,255,255,0)"},
          {"offset": 0.2273, "color": "#a8a8a8"}, {"offset": 0.2308, "color": "#a8a8a8"}, {"offset": 0.2308, "color": "rgba(255,255,255,0)"}, {"offset": 0.2500, "color": "rgba(255,255,255,0)"},
          {"offset": 0.2500, "color": "#a8a8a8"}, {"offset": 0.2535, "color": "#a8a8a8"}, {"offset": 0.2535, "color": "rgba(255,255,255,0)"}, {"offset": 0.2727, "color": "rgba(255,255,255,0)"},
          {"offset": 0.2727, "color": "#a8a8a8"}, {"offset": 0.2762, "color": "#a8a8a8"}, {"offset": 0.2762, "color": "rgba(255,255,255,0)"}, {"offset": 0.2955, "color": "rgba(255,255,255,0)"},
          {"offset": 0.2955, "color": "#a8a8a8"}, {"offset": 0.2990, "color": "#a8a8a8"}, {"offset": 0.2990, "color": "rgba(255,255,255,0)"}, {"offset": 0.3182, "color": "rgba(255,255,255,0)"},
          {"offset": 0.3182, "color": "#a8a8a8"}, {"offset": 0.3217, "color": "#a8a8a8"}, {"offset": 0.3217, "color": "rgba(255,255,255,0)"}, {"offset": 0.3409, "color": "rgba(255,255,255,0)"},
          {"offset": 0.3409, "color": "#a8a8a8"}, {"offset": 0.3444, "color": "#a8a8a8"}, {"offset": 0.3444, "color": "rgba(255,255,255,0)"}, {"offset": 0.3636, "color": "rgba(255,255,255,0)"},
          {"offset": 0.3636, "color": "#a8a8a8"}, {"offset": 0.3671, "color": "#a8a8a8"}, {"offset": 0.3671, "color": "rgba(255,255,255,0)"}, {"offset": 0.3864, "color": "rgba(255,255,255,0)"},
          {"offset": 0.3864, "color": "#a8a8a8"}, {"offset": 0.3899, "color": "#a8a8a8"}, {"offset": 0.3899, "color": "rgba(255,255,255,0)"}, {"offset": 0.4091, "color": "rgba(255,255,255,0)"},
          {"offset": 0.4091, "color": "#a8a8a8"}, {"offset": 0.4126, "color": "#a8a8a8"}, {"offset": 0.4126, "color": "rgba(255,255,255,0)"}, {"offset": 0.4318, "color": "rgba(255,255,255,0)"},
          {"offset": 0.4318, "color": "#a8a8a8"}, {"offset": 0.4353, "color": "#a8a8a8"}, {"offset": 0.4353, "color": "rgba(255,255,255,0)"}, {"offset": 0.4545, "color": "rgba(255,255,255,0)"},
          {"offset": 0.4545, "color": "#a8a8a8"}, {"offset": 0.4580, "color": "#a8a8a8"}, {"offset": 0.4580, "color": "rgba(255,255,255,0)"}, {"offset": 0.4773, "color": "rgba(255,255,255,0)"},
          {"offset": 0.4773, "color": "#a8a8a8"}, {"offset": 0.4808, "color": "#a8a8a8"}, {"offset": 0.4808, "color": "rgba(255,255,255,0)"}, {"offset": 0.5000, "color": "rgba(255,255,255,0)"},
          {"offset": 0.5000, "color": "#a8a8a8"}, {"offset": 0.5035, "color": "#a8a8a8"}, {"offset": 0.5035, "color": "rgba(255,255,255,0)"}, {"offset": 0.5227, "color": "rgba(255,255,255,0)"},
          {"offset": 0.5227, "color": "#a8a8a8"}, {"offset": 0.5262, "color": "#a8a8a8"}, {"offset": 0.5262, "color": "rgba(255,255,255,0)"}, {"offset": 0.5455, "color": "rgba(255,255,255,0)"},
          {"offset": 0.5455, "color": "#a8a8a8"}, {"offset": 0.5490, "color": "#a8a8a8"}, {"offset": 0.5490, "color": "rgba(255,255,255,0)"}, {"offset": 0.5682, "color": "rgba(255,255,255,0)"},
          {"offset": 0.5682, "color": "#a8a8a8"}, {"offset": 0.5717, "color": "#a8a8a8"}, {"offset": 0.5717, "color": "rgba(255,255,255,0)"}, {"offset": 0.5909, "color": "rgba(255,255,255,0)"},
          {"offset": 0.5909, "color": "#a8a8a8"}, {"offset": 0.5944, "color": "#a8a8a8"}, {"offset": 0.5944, "color": "rgba(255,255,255,0)"}, {"offset": 0.6136, "color": "rgba(255,255,255,0)"},
          {"offset": 0.6136, "color": "#a8a8a8"}, {"offset": 0.6171, "color": "#a8a8a8"}, {"offset": 0.6171, "color": "rgba(255,255,255,0)"}, {"offset": 0.6364, "color": "rgba(255,255,255,0)"},
          {"offset": 0.6364, "color": "#a8a8a8"}, {"offset": 0.6399, "color": "#a8a8a8"}, {"offset": 0.6399, "color": "rgba(255,255,255,0)"}, {"offset": 0.6591, "color": "rgba(255,255,255,0)"},
          {"offset": 0.6591, "color": "#a8a8a8"}, {"offset": 0.6626, "color": "#a8a8a8"}, {"offset": 0.6626, "color": "rgba(255,255,255,0)"}, {"offset": 0.6818, "color": "rgba(255,255,255,0)"},
          {"offset": 0.6818, "color": "#a8a8a8"}, {"offset": 0.6853, "color": "#a8a8a8"}, {"offset": 0.6853, "color": "rgba(255,255,255,0)"}, {"offset": 0.7045, "color": "rgba(255,255,255,0)"},
          {"offset": 0.7045, "color": "#a8a8a8"}, {"offset": 0.7080, "color": "#a8a8a8"}, {"offset": 0.7080, "color": "rgba(255,255,255,0)"}, {"offset": 0.7273, "color": "rgba(255,255,255,0)"},
          {"offset": 0.7273, "color": "#a8a8a8"}, {"offset": 0.7308, "color": "#a8a8a8"}, {"offset": 0.7308, "color": "rgba(255,255,255,0)"}, {"offset": 0.7500, "color": "rgba(255,255,255,0)"},
          {"offset": 0.7500, "color": "#a8a8a8"}, {"offset": 0.7535, "color": "#a8a8a8"}, {"offset": 0.7535, "color": "rgba(255,255,255,0)"}, {"offset": 0.7727, "color": "rgba(255,255,255,0)"},
          {"offset": 0.7727, "color": "#a8a8a8"}, {"offset": 0.7762, "color": "#a8a8a8"}, {"offset": 0.7762, "color": "rgba(255,255,255,0)"}, {"offset": 0.7955, "color": "rgba(255,255,255,0)"},
          {"offset": 0.7955, "color": "#a8a8a8"}, {"offset": 0.7990, "color": "#a8a8a8"}, {"offset": 0.7990, "color": "rgba(255,255,255,0)"}, {"offset": 0.8182, "color": "rgba(255,255,255,0)"},
          {"offset": 0.8182, "color": "#a8a8a8"}, {"offset": 0.8217, "color": "#a8a8a8"}, {"offset": 0.8217, "color": "rgba(255,255,255,0)"}, {"offset": 0.8409, "color": "rgba(255,255,255,0)"},
          {"offset": 0.8409, "color": "#a8a8a8"}, {"offset": 0.8444, "color": "#a8a8a8"}, {"offset": 0.8444, "color": "rgba(255,255,255,0)"}, {"offset": 0.8636, "color": "rgba(255,255,255,0)"},
          {"offset": 0.8636, "color": "#a8a8a8"}, {"offset": 0.8671, "color": "#a8a8a8"}, {"offset": 0.8671, "color": "rgba(255,255,255,0)"}, {"offset": 0.8864, "color": "rgba(255,255,255,0)"},
          {"offset": 0.8864, "color": "#a8a8a8"}, {"offset": 0.8899, "color": "#a8a8a8"}, {"offset": 0.8899, "color": "rgba(255,255,255,0)"}, {"offset": 0.9091, "color": "rgba(255,255,255,0)"},
          {"offset": 0.9091, "color": "#a8a8a8"}, {"offset": 0.9126, "color": "#a8a8a8"}, {"offset": 0.9126, "color": "rgba(255,255,255,0)"}, {"offset": 0.9318, "color": "rgba(255,255,255,0)"},
          {"offset": 0.9318, "color": "#a8a8a8"}, {"offset": 0.9353, "color": "#a8a8a8"}, {"offset": 0.9353, "color": "rgba(255,255,255,0)"}, {"offset": 0.9545, "color": "rgba(255,255,255,0)"},
          {"offset": 0.9545, "color": "#a8a8a8"}, {"offset": 0.9580, "color": "#a8a8a8"}, {"offset": 0.9580, "color": "rgba(255,255,255,0)"}, {"offset": 0.9773, "color": "rgba(255,255,255,0)"},
          {"offset": 0.9773, "color": "#a8a8a8"}, {"offset": 0.9808, "color": "#a8a8a8"}, {"offset": 0.9808, "color": "rgba(255,255,255,0)"}, {"offset": 1, "color": "rgba(255,255,255,0)"}
        ]}},
      "encoding": {
        "x": {"field": "lo", "type": "quantitative", "scale": {"domain": [2, 6], "nice": false, "zero": false},
          "axis": {"orient": "top", "values": [2.1, 2.2, 2.3, 2.4, 2.6, 2.7, 2.8, 2.9, 3.1, 3.2, 3.3, 3.4, 3.6, 3.7, 3.8, 3.9, 4.1, 4.2, 4.3, 4.4, 4.6, 4.7, 4.8, 4.9, 5.1, 5.2, 5.3, 5.4, 5.6, 5.7, 5.8, 5.9], "tickSize": -11, "labels": false, "title": null}},
        "y": {"field": "jpsi", "type": "quantitative", "scale": {"domain": [0, 0.07876], "nice": false},
          "axis": {"orient": "right", "values": [0.002, 0.004, 0.006, 0.008, 0.012, 0.014, 0.016, 0.018, 0.022, 0.024, 0.026, 0.028, 0.032, 0.034, 0.036, 0.038, 0.042, 0.044, 0.046, 0.048, 0.052, 0.054, 0.056, 0.058, 0.062, 0.064, 0.066, 0.068, 0.072, 0.074, 0.076, 0.078], "tickSize": -14, "labels": false, "title": null}}
      }
    },
    {
      "mark": {"type": "rule", "color": "#0000ff", "strokeWidth": 1.5},
      "encoding": {
        "x": {"field": "lo", "type": "quantitative", "scale": {"domain": [2, 6], "nice": false, "zero": false}, "axis": null},
        "x2": {"field": "hi"},
        "y": {"field": "jpsi", "type": "quantitative", "scale": {"domain": [0, 0.07876], "nice": false}, "axis": null}
      }
    },
    {
      "mark": {"type": "line", "interpolate": "step-after", "color": "#0000ff", "strokeWidth": 1.5},
      "encoding": {
        "x": {"field": "lo", "type": "quantitative", "scale": {"domain": [2, 6], "nice": false, "zero": false}, "axis": null},
        "y": {"field": "jpsi", "type": "quantitative", "scale": {"domain": [0, 0.07876], "nice": false}, "axis": null}
      }
    },
    {
      "mark": {"type": "rule", "color": "#ff0000", "strokeWidth": 1.5},
      "encoding": {
        "x": {"field": "lo", "type": "quantitative", "scale": {"domain": [2, 6], "nice": false, "zero": false}, "axis": null},
        "x2": {"field": "hi"},
        "y": {"field": "psi2", "type": "quantitative", "scale": {"domain": [0, 0.07876], "nice": false}, "axis": null}
      }
    },
    {
      "mark": {"type": "line", "interpolate": "step-after", "color": "#ff0000", "strokeWidth": 1.5},
      "encoding": {
        "x": {"field": "lo", "type": "quantitative", "scale": {"domain": [2, 6], "nice": false, "zero": false}, "axis": null},
        "y": {"field": "psi2", "type": "quantitative", "scale": {"domain": [0, 0.07876], "nice": false}, "axis": null}
      }
    },
    {
      "mark": {"type": "rule", "color": "#ff0000", "strokeWidth": 2},
      "encoding": {
        "y": {"datum": 0, "type": "quantitative", "scale": {"domain": [0, 0.07876], "nice": false}, "axis": null}
      }
    },
    {
      "transform": [{"fold": ["jpsi", "psi2"], "as": ["k2", "v2"]}],
      "mark": {"type": "point", "opacity": 0},
      "encoding": {
        "x": {"field": "lo", "type": "quantitative", "scale": {"domain": [2, 6], "nice": false, "zero": false}, "axis": null},
        "y": {"field": "v2", "type": "quantitative", "scale": {"domain": [0, 0.07876], "nice": false}, "axis": null},
        "shape": {"field": "k2", "type": "nominal",
          "legend": {"orient": "none", "legendX": 720, "legendY": 50, "title": null, "zindex": 1, "columns": 2, "columnPadding": 2.4,
            "symbolType": "square", "symbolSize": 6400, "symbolStrokeWidth": 0, "symbolFillColor": "black", "symbolStrokeColor": "black", "symbolOpacity": 1,
            "labelFontSize": 1, "labelOffset": 0, "labelExpr": "''", "padding": 5, "fillColor": "black", "strokeColor": "black"}}
      }
    }
  ]
}
